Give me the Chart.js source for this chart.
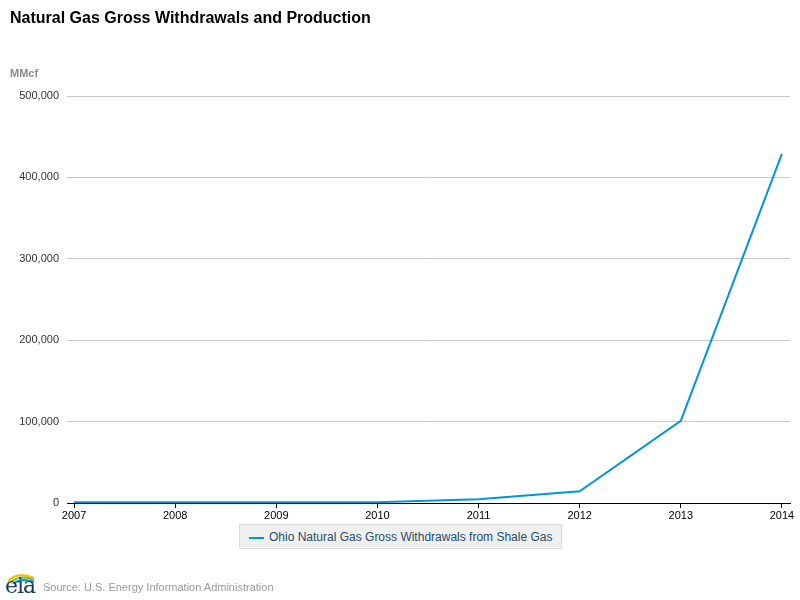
<!DOCTYPE html>
<html>
<head>
<meta charset="utf-8">
<script src="https://cdn.jsdelivr.net/npm/chart.js@4"></script>
<style>
  body { margin: 0; background: #fff; font-family: "Liberation Sans", Arial, sans-serif; }
  #wrap { position: relative; width: 800px; height: 600px; }
  #chartBox { position: absolute; left: 0; top: 0; width: 800px; height: 600px; }
  .title { position: absolute; left: 10px; top: 9px; font-size: 16px; font-weight: bold; color: #000; }
  .unit { position: absolute; left: 10px; top: 67px; font-size: 11px; font-weight: bold; color: #8a8a8a; }
  .legend { position: absolute; left: 239px; top: 524px; width: 321px; height: 23px;
    background: #f0f0f0; border: 1px solid #dcdcdc; box-sizing: content-box; }
  .legend .swatch { position: absolute; left: 9px; top: 12px; width: 15px; height: 2px; background: #0096d7; }
  .legend .txt { position: absolute; left: 29px; top: 5px; font-size: 12px; color: #274b6d; white-space: nowrap; }
  .source { position: absolute; left: 43px; top: 581px; font-size: 11px; color: #9a9a9a; }
  .logo { position: absolute; left: 4px; top: 570px; width: 34px; height: 28px; }
  .logo span { position: absolute; left: 1px; top: 3px; font-family: "DejaVu Serif", serif; font-size: 22px; color: #1c3b5a; letter-spacing: -1px; }
</style>
</head>
<body>
<div id="wrap">
  <div id="chartBox"><canvas id="gasChart"></canvas></div>
  <div class="title">Natural Gas Gross Withdrawals and Production</div>
  <div class="unit">MMcf</div>
  <div class="legend"><div class="swatch"></div><div class="txt">Ohio Natural Gas Gross Withdrawals from Shale Gas</div></div>
  <div class="logo">
    <svg width="34" height="14" style="position:absolute;left:0;top:0">
      <path d="M4 11 Q14 1 30 8" stroke="#f2c200" stroke-width="2" fill="none"/>
      <path d="M6 13 Q15 4 30 10" stroke="#7dbb42" stroke-width="2" fill="none"/>
      <path d="M9 14 Q17 7 30 12" stroke="#0096d7" stroke-width="2" fill="none"/>
    </svg>
    <span>eia</span>
  </div>
  <div class="source">Source: U.S. Energy Information Administration</div>
</div>
<script>
// Ohio shale gas gross withdrawals, MMcf
const years = [2007, 2008, 2009, 2010, 2011, 2012, 2013, 2014];
const shaleGas = [1000, 1000, 1000, 1000, 4500, 14500, 101000, 429000];
const yTicks = [0, 100000, 200000, 300000, 400000, 500000];

const points = years.map((yr, i) => ({ x: yr, y: shaleGas[i] }));

const config = {
  type: 'line',
  data: {
    datasets: [{
      label: 'Ohio Natural Gas Gross Withdrawals from Shale Gas',
      data: points,
      borderColor: '#0096d7',
      borderWidth: 2,
      pointRadius: 0,
      tension: 0,
      fill: false,
    }]
  },
  options: {
    responsive: false,
    animation: false,
    layout: { padding: { top: 96, right: 10, bottom: 77, left: 0 } },
    plugins: {
      legend: { display: false },
      tooltip: { enabled: false },
    },
    scales: {
      x: {
        type: 'linear',
        min: 2006.93,
        max: 2014.08,
        afterBuildTicks: (scale) => {
          scale.ticks = years.map(v => ({ value: v }));
        },
        afterFit: (scale) => { scale.height = 20; },
        ticks: {
          callback: (v) => String(v),
          color: '#000',
          font: { family: 'Liberation Sans', size: 11 },
          padding: 1,
          maxRotation: 0,
          autoSkip: false,
        },
        grid: {
          drawOnChartArea: false,
          drawTicks: true,
          tickLength: 5,
          color: '#000',
        },
        border: { display: true, color: '#000', width: 1 },
      },
      y: {
        min: 0,
        max: 500000,
        afterBuildTicks: (scale) => {
          scale.ticks = yTicks.map(v => ({ value: v }));
        },
        afterFit: (scale) => { scale.width = 67; },
        ticks: {
          callback: (v) => v.toLocaleString('en-US'),
          color: '#333',
          font: { family: 'Liberation Sans', size: 11 },
          padding: 8,
        },
        grid: {
          color: '#c8c8c8',
          drawTicks: false,
          lineWidth: 1,
        },
        border: { display: false },
      }
    }
  }
};

const canvas = document.getElementById('gasChart');
canvas.width = 800;
canvas.height = 600;
const gasChart = new Chart(canvas, config);
</script>
</body>
</html>
